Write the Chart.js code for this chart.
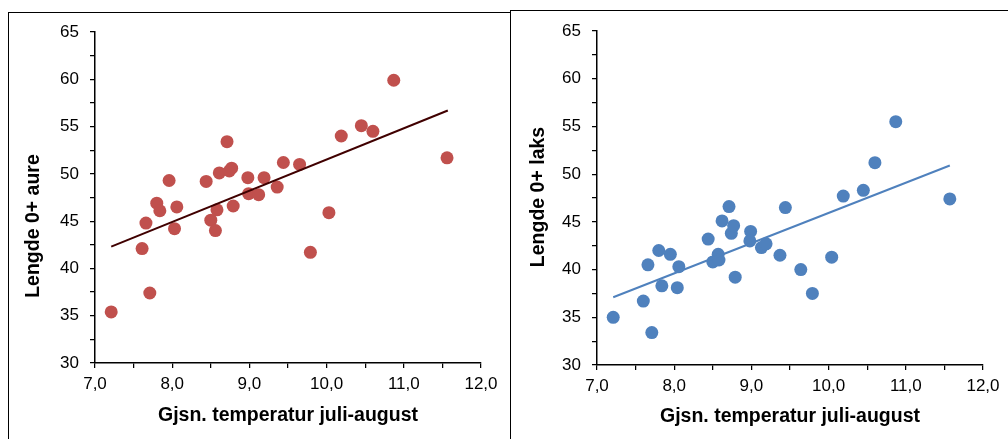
<!DOCTYPE html>
<html>
<head>
<meta charset="utf-8">
<script src="https://cdn.jsdelivr.net/npm/chart.js@4.4.1/dist/chart.umd.min.js"></script>
<style>
  html, body { margin: 0; padding: 0; background: #fff; width: 1008px; height: 439px; overflow: hidden; }
  .frame { position: absolute; border: 1px solid #000; box-sizing: border-box; }
  canvas { position: absolute; top: 0; }
</style>
</head>
<body>
<div class="frame" style="left:8px; top:12px; width:503px; height:460px;"></div>
<div class="frame" style="left:510px; top:10px; width:520px; height:460px;"></div>
<canvas id="c1" width="511" height="439" style="left:0px"></canvas>
<canvas id="c2" width="497" height="439" style="left:511px"></canvas>
<script>
// ---- data ----
const xTickValues = [7, 8, 9, 10, 11, 12];
const yTickValues = [30, 35, 40, 45, 50, 55, 60, 65];
const xTitle = 'Gjsn. temperatur juli-august';

const aureTemp   = [7.21, 7.61, 7.71, 7.66, 7.80, 7.84, 7.96, 8.03, 8.06, 8.44, 8.50, 8.56, 8.58, 8.61, 8.71, 8.74, 8.77, 8.79, 8.98, 8.99, 9.12, 9.19, 9.36, 9.44, 9.65, 9.79, 10.03, 10.19, 10.45, 10.60, 10.87, 11.56];
const aureLength = [35.4, 42.1, 37.4, 44.8, 46.9, 46.1, 49.3, 44.2, 46.5, 49.2, 45.1, 44.0, 46.2, 50.1, 53.4, 50.3, 50.6, 46.6, 49.6, 47.9, 47.8, 49.6, 48.6, 51.2, 51.0, 41.7, 45.9, 54.0, 55.1, 54.5, 59.9, 51.7];
const aureTrendX = [7.21, 11.57];
const aureTrendY = [42.3, 56.7];

const laksTemp   = [7.21, 7.60, 7.71, 7.66, 7.80, 7.84, 7.95, 8.04, 8.06, 8.44, 8.50, 8.57, 8.58, 8.62, 8.71, 8.74, 8.77, 8.79, 8.99, 8.98, 9.13, 9.19, 9.37, 9.44, 9.64, 9.79, 10.04, 10.19, 10.45, 10.60, 10.87, 11.57];
const laksLength = [35.0, 36.7, 33.4, 40.5, 42.0, 38.3, 41.6, 38.1, 40.3, 43.2, 40.8, 41.6, 41.0, 45.1, 46.6, 43.8, 44.6, 39.2, 44.0, 43.0, 42.3, 42.7, 41.5, 46.5, 40.0, 37.5, 41.3, 47.7, 48.3, 51.2, 55.5, 47.4];
const laksTrendX = [7.21, 11.57];
const laksTrendY = [37.1, 50.9];

const FONT = "'Liberation Sans', Arial, sans-serif";

function pts(xs, ys) { return xs.map((x, i) => ({ x: x, y: ys[i] })); }

const yTitlePlugin = {
  id: 'yTitle',
  afterDraw(chart, args, opts) {
    const ctx = chart.ctx;
    ctx.save();
    ctx.translate(opts.x, opts.y);
    ctx.rotate(-Math.PI / 2);
    ctx.font = 'bold 19.5px ' + FONT;
    ctx.fillStyle = '#000';
    ctx.textAlign = 'center';
    ctx.textBaseline = 'middle';
    ctx.fillText(opts.text, 0, 0);
    ctx.restore();
  }
};

function makeChart(id, cfg) {
  return new Chart(document.getElementById(id), {
    type: 'scatter',
    data: {
      datasets: [
        {
          type: 'line',
          data: pts(cfg.trendX, cfg.trendY),
          borderColor: cfg.trendColor,
          borderWidth: 2,
          pointRadius: 0,
          fill: false,
          order: 0
        },
        {
          data: pts(cfg.xs, cfg.ys),
          backgroundColor: cfg.color,
          borderColor: cfg.color,
          borderWidth: 0,
          pointRadius: 6.5,
          pointHoverRadius: 6.5,
          order: 1
        }
      ]
    },
    options: {
      responsive: false,
      animation: false,
      devicePixelRatio: 1,
      layout: { padding: cfg.padding },
      plugins: {
        legend: { display: false },
        tooltip: { enabled: false },
        yTitle: { text: cfg.yTitle, x: cfg.yTitleX, y: cfg.yTitleY }
      },
      scales: {
        x: {
          type: 'linear',
          min: 7, max: 12,
          afterFit(s) { s.height = cfg.xHeight; },
          border: { display: true, color: '#000', width: 1.5 },
          grid: { drawOnChartArea: false, drawTicks: true, tickLength: 5, color: '#000', tickColor: '#000', lineWidth: 1.25 },
          ticks: {
            stepSize: 0.5,
            autoSkip: false,
            maxRotation: 0,
            padding: cfg.xPad,
            color: '#000',
            font: { family: FONT, size: 17 },
            callback: (v) => xTickValues.includes(v) ? v.toFixed(1).replace('.', ',') : ''
          },
          title: {
            display: true,
            text: xTitle,
            color: '#000',
            font: { family: FONT, size: 19.5, weight: 'bold' },
            padding: { top: 0, bottom: cfg.xTitlePad }
          }
        },
        y: {
          type: 'linear',
          min: 30, max: 65,
          afterFit(s) { s.width = cfg.yWidth; },
          border: { display: true, color: '#000', width: 1.5 },
          grid: { drawOnChartArea: false, drawTicks: true, tickLength: 5, color: '#000', tickColor: '#000', lineWidth: 1.25 },
          ticks: {
            stepSize: 2.5,
            autoSkip: false,
            padding: cfg.yPad,
            color: '#000',
            font: { family: FONT, size: 17 },
            callback: (v) => yTickValues.includes(v) ? String(v) : ''
          }
        }
      }
    },
    plugins: [yTitlePlugin]
  });
}

makeChart('c1', {
  xs: aureTemp, ys: aureLength, trendX: aureTrendX, trendY: aureTrendY,
  color: '#C0504D', trendColor: '#400000',
  padding: { left: 0, top: 32, right: 30, bottom: 0 },
  yWidth: 95, xHeight: 76, xPad: 6, yPad: 11, xTitlePad: 12,
  yTitle: 'Lengde 0+ aure', yTitleX: 34, yTitleY: 226
});

makeChart('c2', {
  xs: laksTemp, ys: laksLength, trendX: laksTrendX, trendY: laksTrendY,
  color: '#4F81BD', trendColor: '#4F81BD',
  padding: { left: 0, top: 31, right: 25, bottom: 0 },
  yWidth: 86, xHeight: 74, xPad: 6, yPad: 11, xTitlePad: 11,
  yTitle: 'Lengde 0+ laks', yTitleX: 28, yTitleY: 197
});
</script>
</body>
</html>
